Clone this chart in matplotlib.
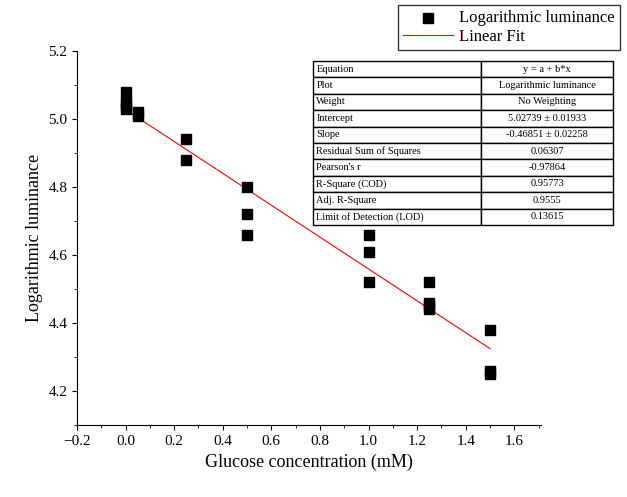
import matplotlib
matplotlib.use("Agg")
import matplotlib.pyplot as plt
import numpy as np

x = [0,0,0,0,0.05,0.05,0.25,0.25,0.5,0.5,0.5,1,1,1,1.25,1.25,1.25,1.25,1.5,1.5,1.5]
y = [5.08,5.05,5.04,5.03,5.02,5.01,4.94,4.88,4.80,4.72,4.66,4.66,4.61,4.52,4.52,4.46,4.45,4.44,4.38,4.26,4.25]
intercept, slope = 5.02739, -0.46851
rows = [("Equation","y = a + b*x"),("Plot","Logarithmic luminance"),("Weight","No Weighting"),
        ("Intercept","5.02739 \u00b1 0.01933"),("Slope","-0.46851 \u00b1 0.02258"),
        ("Residual Sum of Squares","0.06307"),("Pearson's r","-0.97864"),("R-Square (COD)","0.95773"),
        ("Adj. R-Square","0.9555"),("Limit of Detection (LOD)","0.13615")]

plt.rcParams['font.family'] = ['Liberation Serif', 'DejaVu Serif']
fig = plt.figure(figsize=(6.27,4.97), dpi=100)
ax = fig.add_axes([77/627, 1-425/497, (541-77)/627, (425-51)/497])
ax.scatter(x, y, marker='s', s=60, color='black', label='Logarithmic luminance', zorder=3)
xf = np.array([0, 1.5])
ax.plot(xf, intercept + slope*xf, color='red', lw=0.8, label='Linear Fit')
ax.set_xlim(-0.2, 1.71); ax.set_ylim(4.1, 5.2)
ax.set_xticks(np.arange(-0.2, 1.61, 0.2)); ax.set_yticks([4.2,4.4,4.6,4.8,5.0,5.2])
ax.xaxis.set_major_formatter(matplotlib.ticker.FuncFormatter(lambda v,p: f"{v:.1f}".replace('-', '\u2212')))
ax.set_xticks(np.arange(-0.2, 1.71, 0.1), minor=True); ax.set_yticks(np.arange(4.1, 5.2, 0.1), minor=True)
ax.spines['top'].set_visible(False); ax.spines['right'].set_visible(False)
ax.tick_params(labelsize=11)
ax.set_xlabel('Glucose concentration (mM)', fontsize=13)
ax.set_ylabel('Logarithmic luminance', fontsize=13)
fig.legend(loc='upper right', bbox_to_anchor=(620/627, 1-5/497), fontsize=12, frameon=True,
           fancybox=False, edgecolor='black', borderaxespad=0, handlelength=3.0, labelspacing=0.2,
           handletextpad=0.4, borderpad=0.3)
tb = fig.add_axes([313/627, 1-225/497, 300/627, 164/497]); tb.axis('off')
t = tb.table(cellText=[list(r) for r in rows], colWidths=[0.56,0.44], loc='center', bbox=[0,0,1,1])
t.auto_set_font_size(False)
for (r,c), cell in t.get_celld().items():
    cell.set_fontsize(7.5)
    cell.get_text().set_ha('left' if c==0 else 'center')
    if c==0: cell.PAD=0.02
fig.savefig('out.png', dpi=100)
